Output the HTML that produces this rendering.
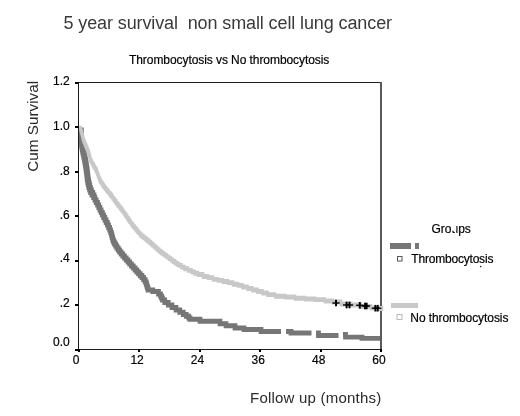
<!DOCTYPE html>
<html><head><meta charset="utf-8"><style>
html,body{margin:0;padding:0;background:#fff;}
body{width:520px;height:416px;overflow:hidden;position:relative;}
svg{position:absolute;left:0;top:0;will-change:transform;}
text{font-family:"Liberation Sans",sans-serif;fill:#000;}
.b{stroke:#000;stroke-width:0.2px;}
</style></head><body>
<svg width="520" height="416" viewBox="0 0 520 416">
<text x="63.5" y="28.6" font-size="18" style="fill:#3a3a3a;white-space:pre" letter-spacing="-0.11">5 year survival  non small cell lung cancer</text>
<text class="b" x="129" y="63.6" font-size="12" letter-spacing="-0.07">Thrombocytosis vs No thrombocytosis</text>
<text transform="translate(37.8 171.8) rotate(-90)" font-size="15.3" style="fill:#2a2a2a">Cum Survival</text>
<text x="250" y="402.6" font-size="15" letter-spacing="0.22" style="fill:#2a2a2a">Follow up (months)</text>
<text class="b" x="69.8" y="85.3" text-anchor="end" font-size="12">1.2</text><text class="b" x="69.8" y="129.8" text-anchor="end" font-size="12">1.0</text><text class="b" x="69.8" y="174.6" text-anchor="end" font-size="12">.8</text><text class="b" x="69.8" y="219" text-anchor="end" font-size="12">.6</text><text class="b" x="69.8" y="262.2" text-anchor="end" font-size="12">.4</text><text class="b" x="69.8" y="306.5" text-anchor="end" font-size="12">.2</text><text class="b" x="69.8" y="346" text-anchor="end" font-size="12">0.0</text><text class="b" x="76.2" y="364" text-anchor="middle" font-size="12">0</text><text class="b" x="137.1" y="364" text-anchor="middle" font-size="12">12</text><text class="b" x="197.5" y="364" text-anchor="middle" font-size="12">24</text><text class="b" x="258.3" y="364" text-anchor="middle" font-size="12">36</text><text class="b" x="318.8" y="364" text-anchor="middle" font-size="12">48</text><text class="b" x="379" y="364" text-anchor="middle" font-size="12">60</text>

<rect x="78" y="82" width="303" height="1" fill="#1e1e1e"/>
<rect x="78" y="349" width="303" height="1" fill="#1e1e1e"/>
<rect x="78" y="82" width="1" height="268" fill="#1a1a1a"/>
<rect x="380" y="82" width="2" height="268" fill="#5a5a5a"/>

<path d="M78.55 127.50h4.73v5.00h-4.73zM78.58 127.50h4.70v6.50h-4.70zM78.58 129.00h4.75v5.00h-4.75zM78.62 129.00h4.70v6.50h-4.70zM78.62 130.50h4.75v5.00h-4.75zM78.68 130.50h4.70v6.75h-4.70zM78.68 132.25h4.75v5.00h-4.75zM78.72 132.25h4.70v6.75h-4.70zM78.72 134.00h4.75v5.00h-4.75zM78.78 134.00h4.70v6.75h-4.70zM78.78 135.75h4.75v5.00h-4.75zM78.83 135.75h4.70v6.75h-4.70zM78.83 137.50h4.89v5.00h-4.89zM79.02 137.50h4.70v7.00h-4.70zM79.02 139.50h5.04v5.00h-5.04zM79.36 139.50h4.70v7.00h-4.70zM79.36 141.50h5.04v5.00h-5.04zM79.70 141.50h4.70v7.00h-4.70zM79.70 143.50h5.04v5.00h-5.04zM80.04 143.50h4.70v7.00h-4.70zM80.04 145.50h5.04v5.00h-5.04zM80.38 145.50h4.70v7.00h-4.70zM80.38 147.50h5.09v5.00h-5.09zM80.77 147.50h4.70v7.00h-4.70zM80.77 149.50h5.14v5.00h-5.14zM81.21 149.50h4.70v7.00h-4.70zM81.21 151.50h5.14v5.00h-5.14zM81.65 151.50h4.70v7.00h-4.70zM81.65 153.50h5.14v5.00h-5.14zM82.09 153.50h4.70v7.00h-4.70zM82.09 155.50h5.14v5.00h-5.14zM82.53 155.50h4.70v7.00h-4.70zM82.53 157.50h5.08v5.00h-5.08zM82.91 157.50h4.70v7.00h-4.70zM82.91 159.50h5.02v5.00h-5.02zM83.23 159.50h4.70v7.00h-4.70zM83.23 161.50h5.02v5.00h-5.02zM83.55 161.50h4.70v7.00h-4.70zM83.55 163.50h5.02v5.00h-5.02zM83.87 163.50h4.70v7.00h-4.70zM83.87 165.50h5.02v5.00h-5.02zM84.19 165.50h4.70v7.00h-4.70zM84.19 167.50h4.98v5.00h-4.98zM84.47 167.50h4.70v7.00h-4.70zM84.47 169.50h4.94v5.00h-4.94zM84.71 169.50h4.70v7.00h-4.70zM84.71 171.50h4.94v5.00h-4.94zM84.95 171.50h4.70v7.00h-4.70zM84.95 173.50h4.94v5.00h-4.94zM85.19 173.50h4.70v7.00h-4.70zM85.19 175.50h4.94v5.00h-4.94zM85.43 175.50h4.70v7.00h-4.70zM85.43 177.50h5.10v5.00h-5.10zM85.83 177.50h4.70v7.50h-4.70zM85.83 180.00h5.25v5.00h-5.25zM86.38 180.00h4.70v7.50h-4.70zM86.38 182.50h5.33v5.00h-5.33zM87.00 182.50h4.70v7.50h-4.70zM87.00 185.00h5.40v5.00h-5.40zM87.70 185.00h4.70v7.50h-4.70zM87.70 187.50h5.70v5.00h-5.70zM88.70 187.50h4.70v7.50h-4.70zM88.70 190.00h6.00v5.00h-6.00zM90.00 190.00h4.70v7.50h-4.70zM90.00 192.50h5.98v5.00h-5.98zM91.28 192.50h4.70v7.50h-4.70zM91.28 195.00h5.95v5.00h-5.95zM92.53 195.00h4.70v7.50h-4.70zM92.53 197.50h6.00v5.00h-6.00zM93.83 197.50h4.70v7.50h-4.70zM93.83 200.00h6.05v5.00h-6.05zM95.18 200.00h4.70v7.50h-4.70zM95.18 202.50h5.95v5.00h-5.95zM96.43 202.50h4.70v7.50h-4.70zM96.43 205.00h5.85v5.00h-5.85zM97.58 205.00h4.70v7.50h-4.70zM97.58 207.50h5.90v5.00h-5.90zM98.78 207.50h4.70v7.50h-4.70zM98.78 210.00h5.95v5.00h-5.95zM100.03 210.00h4.70v7.50h-4.70zM100.03 212.50h5.95v5.00h-5.95zM101.28 212.50h4.70v7.50h-4.70zM101.28 215.00h5.95v5.00h-5.95zM102.53 215.00h4.70v7.50h-4.70zM102.53 217.50h5.95v5.00h-5.95zM103.78 217.50h4.70v7.50h-4.70zM103.78 220.00h5.95v5.00h-5.95zM105.03 220.00h4.70v7.50h-4.70zM105.03 222.50h5.87v5.00h-5.87zM106.20 222.50h4.70v7.50h-4.70zM106.20 225.00h5.80v5.00h-5.80zM107.30 225.00h4.70v7.50h-4.70zM107.30 227.50h5.65v5.00h-5.65zM108.25 227.50h4.70v7.50h-4.70zM108.25 230.00h5.50v5.00h-5.50zM109.05 230.00h4.70v7.50h-4.70zM109.05 232.50h5.40v5.00h-5.40zM109.75 232.50h4.70v7.50h-4.70zM109.75 235.00h5.30v5.00h-5.30zM110.35 235.00h4.70v7.50h-4.70zM110.35 237.50h5.50v5.00h-5.50zM111.15 237.50h4.70v7.00h-4.70zM111.15 239.50h5.70v5.00h-5.70zM112.15 239.50h4.70v7.00h-4.70zM112.15 241.50h5.83v5.00h-5.83zM113.28 241.50h4.70v7.00h-4.70zM113.28 243.50h5.95v5.00h-5.95zM114.53 243.50h4.70v7.00h-4.70zM114.53 245.50h6.03v5.00h-6.03zM115.85 245.50h4.70v7.00h-4.70zM115.85 247.50h6.10v5.00h-6.10zM117.25 247.50h4.70v7.00h-4.70zM117.25 249.50h6.23v5.00h-6.23zM118.78 249.50h4.70v7.00h-4.70zM118.78 251.50h6.35v5.00h-6.35zM120.42 251.50h4.70v7.00h-4.70zM120.42 253.50h6.40v5.00h-6.40zM122.12 253.50h4.70v7.00h-4.70zM122.12 255.50h6.45v5.00h-6.45zM123.88 255.50h4.70v7.00h-4.70zM123.88 257.50h6.43v5.00h-6.43zM125.60 257.50h4.70v7.00h-4.70zM125.60 259.50h6.40v5.00h-6.40zM127.30 259.50h4.70v7.00h-4.70zM127.30 261.50h6.47v5.00h-6.47zM129.07 261.50h4.70v7.00h-4.70zM129.07 263.50h6.53v5.00h-6.53zM130.90 263.50h4.70v7.00h-4.70zM130.90 265.50h6.53v5.00h-6.53zM132.73 265.50h4.70v7.00h-4.70zM132.73 267.50h6.47v5.00h-6.47zM134.50 267.50h4.70v6.88h-4.70zM134.50 269.38h6.40v5.00h-6.40zM136.20 269.38h4.70v6.88h-4.70zM136.20 271.25h6.40v5.00h-6.40zM137.90 271.25h4.70v6.88h-4.70zM137.90 273.12h6.40v5.00h-6.40zM139.60 273.12h4.70v6.88h-4.70zM139.60 275.00h6.35v5.00h-6.35zM141.25 275.00h4.70v7.25h-4.70zM141.25 277.25h6.30v5.00h-6.30zM142.85 277.25h4.70v7.25h-4.70zM142.85 279.50h5.75v5.00h-5.75zM143.90 279.50h4.70v7.00h-4.70zM143.90 281.50h5.20v5.00h-5.20zM144.40 281.50h4.70v7.00h-4.70zM144.40 283.50h5.33v5.00h-5.33zM145.03 283.50h4.70v7.00h-4.70zM145.03 285.50h5.45v5.00h-5.45zM145.78 285.50h4.70v7.00h-4.70zM145.78 287.50h5.08v5.00h-5.08zM146.15 287.50h8.95v5.00h-8.95zM150.40 287.50h4.70v6.50h-4.70zM150.40 289.00h10.45v5.00h-10.45zM156.15 289.00h4.70v7.50h-4.70zM156.15 291.50h6.70v5.00h-6.70zM158.15 291.50h4.70v7.00h-4.70zM158.15 293.50h5.70v5.00h-5.70zM159.15 293.50h4.70v7.00h-4.70zM159.15 295.50h5.70v5.00h-5.70zM160.15 295.50h4.70v7.00h-4.70zM160.15 297.50h6.95v5.00h-6.95zM162.40 297.50h4.70v7.50h-4.70zM162.40 300.00h8.20v5.00h-8.20zM165.90 300.00h4.70v7.50h-4.70zM165.90 302.50h8.45v5.00h-8.45zM169.65 302.50h4.70v7.50h-4.70zM169.65 305.00h8.70v5.00h-8.70zM173.65 305.00h4.70v7.50h-4.70zM173.65 307.50h8.45v5.00h-8.45zM177.40 307.50h4.70v7.25h-4.70zM177.40 309.75h8.20v5.00h-8.20zM180.90 309.75h4.70v7.25h-4.70zM180.90 312.00h7.70v5.00h-7.70zM183.90 312.00h4.70v6.75h-4.70zM183.90 313.75h7.20v5.00h-7.20zM186.40 313.75h4.70v6.75h-4.70zM186.40 315.50h5.95v5.00h-5.95zM187.65 315.50h4.70v6.30h-4.70zM187.65 316.80h14.70v5.00h-14.70zM197.65 316.80h4.70v7.00h-4.70zM197.65 318.80h24.70v5.00h-24.70zM217.65 318.80h4.70v7.40h-4.70zM217.65 321.20h10.70v5.00h-10.70zM223.65 321.20h4.70v7.00h-4.70zM223.65 323.20h13.70v5.00h-13.70zM232.65 323.20h4.70v7.20h-4.70zM232.65 325.40h13.70v5.00h-13.70zM241.65 325.40h4.70v6.70h-4.70zM241.65 327.10h21.70v5.00h-21.70zM258.65 327.10h4.70v6.90h-4.70zM258.65 329.00h22.35v5.00h-22.35zM78.10 127.50h5.63v5.00h-5.63zM78.13 127.50h5.60v6.50h-5.60zM78.13 129.00h5.65v5.00h-5.65zM78.17 129.00h5.60v6.50h-5.60zM78.17 130.50h5.65v5.00h-5.65zM78.23 130.50h5.60v6.75h-5.60zM78.23 132.25h5.65v5.00h-5.65zM78.27 132.25h5.60v6.75h-5.60zM78.27 134.00h5.65v5.00h-5.65zM78.33 134.00h5.60v6.75h-5.60zM78.33 135.75h5.65v5.00h-5.65zM78.38 135.75h5.60v6.75h-5.60zM78.38 137.50h5.79v5.00h-5.79zM78.57 137.50h5.60v7.00h-5.60zM78.57 139.50h5.94v5.00h-5.94zM78.91 139.50h5.60v7.00h-5.60zM78.91 141.50h5.94v5.00h-5.94zM79.25 141.50h5.60v7.00h-5.60zM79.25 143.50h5.94v5.00h-5.94zM79.59 143.50h5.60v7.00h-5.60zM79.59 145.50h5.94v5.00h-5.94zM79.93 145.50h5.60v7.00h-5.60zM79.93 147.50h5.99v5.00h-5.99zM80.32 147.50h5.60v7.00h-5.60zM80.32 149.50h6.04v5.00h-6.04zM80.76 149.50h5.60v7.00h-5.60zM80.76 151.50h6.04v5.00h-6.04zM81.20 151.50h5.60v7.00h-5.60zM81.20 153.50h6.04v5.00h-6.04zM81.64 153.50h5.60v7.00h-5.60zM81.64 155.50h6.04v5.00h-6.04zM82.08 155.50h5.60v7.00h-5.60zM82.08 157.50h5.98v5.00h-5.98zM82.46 157.50h5.60v7.00h-5.60zM82.46 159.50h5.92v5.00h-5.92zM82.78 159.50h5.60v7.00h-5.60zM82.78 161.50h5.92v5.00h-5.92zM83.10 161.50h5.60v7.00h-5.60zM83.10 163.50h5.92v5.00h-5.92zM83.42 163.50h5.60v7.00h-5.60zM83.42 165.50h5.92v5.00h-5.92zM83.74 165.50h5.60v7.00h-5.60zM83.74 167.50h5.88v5.00h-5.88zM84.02 167.50h5.60v7.00h-5.60zM84.02 169.50h5.84v5.00h-5.84zM84.26 169.50h5.60v7.00h-5.60zM84.26 171.50h5.84v5.00h-5.84zM84.50 171.50h5.60v7.00h-5.60zM84.50 173.50h5.84v5.00h-5.84zM84.74 173.50h5.60v7.00h-5.60zM84.74 175.50h5.84v5.00h-5.84zM84.98 175.50h5.60v7.00h-5.60zM84.98 177.50h6.00v5.00h-6.00zM85.38 177.50h5.60v7.50h-5.60zM85.38 180.00h6.15v5.00h-6.15zM85.92 180.00h5.60v7.50h-5.60zM85.92 182.50h6.22v5.00h-6.22zM86.55 182.50h5.60v7.50h-5.60zM86.55 185.00h6.30v5.00h-6.30zM87.25 185.00h5.60v7.50h-5.60zM87.25 187.50h6.60v5.00h-6.60zM88.25 187.50h5.60v7.50h-5.60zM88.25 190.00h6.90v5.00h-6.90zM89.55 190.00h5.60v7.50h-5.60zM89.55 192.50h6.88v5.00h-6.88z" fill="#767676"/><polyline points="286.0,331.5 291.0,331.5 291.0,333.0 311.5,333.0" fill="none" stroke="#767676" stroke-width="4.8" stroke-linejoin="miter" stroke-linecap="butt"/><polyline points="316.0,333.0 318.5,333.0 318.5,335.5 338.5,335.5" fill="none" stroke="#767676" stroke-width="4.8" stroke-linejoin="miter" stroke-linecap="butt"/><polyline points="343.0,334.5 345.5,334.5 345.5,337.2 362.0,337.2 362.0,338.3 380.0,338.3" fill="none" stroke="#767676" stroke-width="4.8" stroke-linejoin="miter" stroke-linecap="butt"/><path d="M79.05 125.85h2.75v4.90h-2.75zM79.30 125.85h2.50v6.47h-2.50zM79.30 127.42h3.00v4.90h-3.00zM79.80 127.42h2.50v6.47h-2.50zM79.80 128.98h3.00v4.90h-3.00zM80.30 128.98h2.50v6.47h-2.50zM80.30 130.55h2.92v4.90h-2.92zM80.72 130.55h2.50v6.30h-2.50zM80.72 131.95h2.84v4.90h-2.84zM81.06 131.95h2.50v6.30h-2.50zM81.06 133.35h2.84v4.90h-2.84zM81.40 133.35h2.50v6.30h-2.50zM81.40 134.75h2.84v4.90h-2.84zM81.74 134.75h2.50v6.30h-2.50zM81.74 136.15h2.84v4.90h-2.84zM82.08 136.15h2.50v6.30h-2.50zM82.08 137.55h2.97v4.90h-2.97zM82.55 137.55h2.50v6.30h-2.50zM82.55 138.95h3.10v4.90h-3.10zM83.15 138.95h2.50v6.30h-2.50zM83.15 140.35h3.10v4.90h-3.10zM83.75 140.35h2.50v6.30h-2.50zM83.75 141.75h3.10v4.90h-3.10zM84.35 141.75h2.50v6.30h-2.50zM84.35 143.15h3.10v4.90h-3.10zM84.95 143.15h2.50v6.30h-2.50zM84.95 144.55h3.13v4.90h-3.13zM85.58 144.55h2.50v6.57h-2.50zM85.58 146.22h3.17v4.90h-3.17zM86.25 146.22h2.50v6.57h-2.50zM86.25 147.88h3.17v4.90h-3.17zM86.92 147.88h2.50v6.57h-2.50zM86.92 149.55h3.04v4.90h-3.04zM87.46 149.55h2.50v6.50h-2.50zM87.46 151.15h2.92v4.90h-2.92zM87.88 151.15h2.50v6.50h-2.50zM87.88 152.75h2.92v4.90h-2.92zM88.30 152.75h2.50v6.50h-2.50zM88.30 154.35h2.92v4.90h-2.92zM88.72 154.35h2.50v6.50h-2.50zM88.72 155.95h2.92v4.90h-2.92zM89.14 155.95h2.50v6.50h-2.50zM89.14 157.55h3.16v4.90h-3.16zM89.80 157.55h2.50v6.57h-2.50zM89.80 159.22h3.40v4.90h-3.40zM90.70 159.22h2.50v6.57h-2.50zM90.70 160.88h3.40v4.90h-3.40zM91.60 160.88h2.50v6.57h-2.50zM91.60 162.55h3.43v4.90h-3.43zM92.53 162.55h2.50v6.57h-2.50zM92.53 164.22h3.47v4.90h-3.47zM93.50 164.22h2.50v6.57h-2.50zM93.50 165.88h3.47v4.90h-3.47zM94.47 165.88h2.50v6.57h-2.50zM94.47 167.55h3.30v4.90h-3.30zM95.27 167.55h2.50v6.57h-2.50zM95.27 169.22h3.13v4.90h-3.13zM95.90 169.22h2.50v6.57h-2.50zM95.90 170.88h3.13v4.90h-3.13zM96.53 170.88h2.50v6.57h-2.50zM96.53 172.55h3.12v4.90h-3.12zM97.15 172.55h2.50v6.57h-2.50zM97.15 174.22h3.10v4.90h-3.10zM97.75 174.22h2.50v6.57h-2.50zM97.75 175.88h3.10v4.90h-3.10zM98.35 175.88h2.50v6.57h-2.50zM98.35 177.55h3.32v4.90h-3.32zM99.17 177.55h2.50v6.57h-2.50zM99.17 179.22h3.53v4.90h-3.53zM100.20 179.22h2.50v6.57h-2.50zM100.20 180.88h3.53v4.90h-3.53zM101.23 180.88h2.50v6.57h-2.50zM101.23 182.55h3.65v4.90h-3.65zM102.38 182.55h2.50v6.57h-2.50zM102.38 184.22h3.77v4.90h-3.77zM103.65 184.22h2.50v6.57h-2.50zM103.65 185.88h3.77v4.90h-3.77zM104.92 185.88h2.50v6.57h-2.50zM104.92 187.55h3.83v4.90h-3.83zM106.25 187.55h2.50v6.57h-2.50zM106.25 189.22h3.90v4.90h-3.90zM107.65 189.22h2.50v6.57h-2.50zM107.65 190.88h3.90v4.90h-3.90zM109.05 190.88h2.50v6.57h-2.50zM109.05 192.55h3.78v4.90h-3.78zM110.33 192.55h2.50v6.57h-2.50zM110.33 194.22h3.67v4.90h-3.67zM111.50 194.22h2.50v6.57h-2.50zM111.50 195.88h3.67v4.90h-3.67zM112.67 195.88h2.50v6.57h-2.50zM112.67 197.55h3.70v4.90h-3.70zM113.87 197.55h2.50v6.57h-2.50zM113.87 199.22h3.73v4.90h-3.73zM115.10 199.22h2.50v6.57h-2.50zM115.10 200.88h3.73v4.90h-3.73zM116.33 200.88h2.50v6.57h-2.50zM116.33 202.55h3.78v4.90h-3.78zM117.62 202.55h2.50v6.57h-2.50zM117.62 204.22h3.83v4.90h-3.83zM118.95 204.22h2.50v6.57h-2.50zM118.95 205.88h3.83v4.90h-3.83zM120.28 205.88h2.50v6.57h-2.50zM120.28 207.55h3.75v4.90h-3.75zM121.53 207.55h2.50v6.57h-2.50zM121.53 209.22h3.67v4.90h-3.67zM122.70 209.22h2.50v6.57h-2.50zM122.70 210.88h3.67v4.90h-3.67zM123.87 210.88h2.50v6.57h-2.50zM123.87 212.55h3.63v4.90h-3.63zM125.00 212.55h2.50v6.57h-2.50zM125.00 214.22h3.60v4.90h-3.60zM126.10 214.22h2.50v6.57h-2.50zM126.10 215.88h3.60v4.90h-3.60zM127.20 215.88h2.50v6.57h-2.50zM127.20 217.55h3.65v4.90h-3.65zM128.35 217.55h2.50v6.57h-2.50zM128.35 219.22h3.70v4.90h-3.70zM129.55 219.22h2.50v6.57h-2.50zM129.55 220.88h3.70v4.90h-3.70zM130.75 220.88h2.50v6.57h-2.50zM130.75 222.55h3.78v4.90h-3.78zM132.03 222.55h2.50v6.57h-2.50zM132.03 224.22h3.87v4.90h-3.87zM133.40 224.22h2.50v6.57h-2.50zM133.40 225.88h3.87v4.90h-3.87zM134.77 225.88h2.50v6.57h-2.50zM134.77 227.55h3.90v4.90h-3.90zM136.17 227.55h2.50v6.57h-2.50zM136.17 229.22h3.93v4.90h-3.93zM137.60 229.22h2.50v6.57h-2.50zM137.60 230.88h3.93v4.90h-3.93zM139.03 230.88h2.50v6.57h-2.50zM139.03 232.55h4.12v4.90h-4.12zM140.65 232.55h2.50v6.34h-2.50zM140.65 233.99h4.30v4.90h-4.30zM142.45 233.99h2.50v6.34h-2.50zM142.45 235.43h4.30v4.90h-4.30zM144.25 235.43h2.50v6.34h-2.50zM144.25 236.87h4.30v4.90h-4.30zM146.05 236.87h2.50v6.34h-2.50zM146.05 238.31h4.30v4.90h-4.30zM147.85 238.31h2.50v6.34h-2.50zM147.85 239.75h4.23v4.90h-4.23zM149.58 239.75h2.50v6.40h-2.50zM149.58 241.25h4.17v4.90h-4.17zM151.25 241.25h2.50v6.40h-2.50zM151.25 242.75h4.17v4.90h-4.17zM152.92 242.75h2.50v6.40h-2.50zM152.92 244.25h4.17v4.90h-4.17zM154.58 244.25h2.50v6.40h-2.50zM154.58 245.75h4.17v4.90h-4.17zM156.25 245.75h2.50v6.40h-2.50zM156.25 247.25h4.17v4.90h-4.17zM157.92 247.25h2.50v6.40h-2.50zM157.92 248.75h4.33v4.90h-4.33zM159.75 248.75h2.50v6.38h-2.50zM159.75 250.23h4.50v4.90h-4.50zM161.75 250.23h2.50v6.38h-2.50zM161.75 251.71h4.50v4.90h-4.50zM163.75 251.71h2.50v6.38h-2.50zM163.75 253.19h4.50v4.90h-4.50zM165.75 253.19h2.50v6.38h-2.50zM165.75 254.67h4.50v4.90h-4.50zM167.75 254.67h2.50v6.38h-2.50zM167.75 256.15h4.50v4.90h-4.50zM169.75 256.15h2.50v6.37h-2.50zM169.75 257.62h4.50v4.90h-4.50zM171.75 257.62h2.50v6.37h-2.50zM171.75 259.08h4.50v4.90h-4.50zM173.75 259.08h2.50v6.37h-2.50zM173.75 260.55h4.50v4.90h-4.50zM175.75 260.55h2.50v6.10h-2.50zM175.75 261.75h4.50v4.90h-4.50zM177.75 261.75h2.50v6.10h-2.50zM177.75 262.95h5.00v4.90h-5.00zM180.25 262.95h2.50v6.60h-2.50zM180.25 264.65h5.50v4.90h-5.50zM183.25 264.65h2.50v6.60h-2.50zM183.25 266.35h6.00v4.90h-6.00zM186.75 266.35h2.50v6.50h-2.50zM186.75 267.95h6.00v4.90h-6.00zM190.25 267.95h2.50v6.35h-2.50zM190.25 269.40h5.50v4.90h-5.50zM193.25 269.40h2.50v6.35h-2.50zM193.25 270.85h6.00v4.90h-6.00zM196.75 270.85h2.50v6.10h-2.50zM196.75 272.05h7.50v4.90h-7.50zM201.75 272.05h2.50v6.90h-2.50zM201.75 274.05h7.50v4.90h-7.50zM206.75 274.05h2.50v6.00h-2.50zM206.75 275.15h7.50v4.90h-7.50zM211.75 275.15h2.50v6.70h-2.50zM211.75 276.95h7.50v4.90h-7.50zM216.75 276.95h2.50v5.90h-2.50zM216.75 277.95h7.50v4.90h-7.50zM221.75 277.95h2.50v6.00h-2.50zM221.75 279.05h7.50v4.90h-7.50zM226.75 279.05h2.50v6.00h-2.50zM226.75 280.15h7.50v4.90h-7.50zM231.75 280.15h2.50v6.50h-2.50zM231.75 281.75h7.50v4.90h-7.50zM236.75 281.75h2.50v6.10h-2.50zM236.75 282.95h7.00v4.90h-7.00zM241.25 282.95h2.50v6.45h-2.50zM241.25 284.50h7.50v4.90h-7.50zM246.25 284.50h2.50v6.45h-2.50zM246.25 286.05h7.50v4.90h-7.50zM251.25 286.05h2.50v6.40h-2.50zM251.25 287.55h7.50v4.90h-7.50zM256.25 287.55h2.50v6.40h-2.50zM256.25 289.05h7.50v4.90h-7.50zM261.25 289.05h2.50v6.45h-2.50zM261.25 290.60h7.50v4.90h-7.50zM266.25 290.60h2.50v6.45h-2.50zM266.25 292.15h10.00v4.90h-10.00zM273.75 292.15h2.50v6.50h-2.50zM273.75 293.75h12.50v4.90h-12.50zM283.75 293.75h2.50v5.70h-2.50zM283.75 294.55h12.50v4.90h-12.50zM293.75 294.55h2.50v6.10h-2.50zM293.75 295.75h12.50v4.90h-12.50zM303.75 295.75h2.50v5.70h-2.50zM303.75 296.55h12.50v4.90h-12.50zM313.75 296.55h2.50v5.50h-2.50zM313.75 297.15h12.50v4.90h-12.50zM323.75 297.15h2.50v6.30h-2.50zM323.75 298.55h10.50v4.90h-10.50zM331.75 298.55h2.50v5.90h-2.50zM331.75 299.55h10.50v4.90h-10.50zM339.75 299.55h2.50v6.90h-2.50zM339.75 301.55h12.50v4.90h-12.50zM349.75 301.55h2.50v5.90h-2.50zM349.75 302.55h12.50v4.90h-12.50zM359.75 302.55h2.50v6.40h-2.50zM359.75 304.05h12.50v4.90h-12.50zM369.75 304.05h2.50v6.40h-2.50zM369.75 305.55h10.50v4.90h-10.50zM377.75 305.55h2.50v5.40h-2.50zM377.75 306.05h5.50v4.90h-5.50z" fill="#c8c8c8"/><path d="M332.4 303.0H339.6" stroke="#000" stroke-width="1.4" fill="none"/><path d="M336.0 299.7V306.3" stroke="#000" stroke-width="2" fill="none"/><path d="M343.0 305.0H350.2" stroke="#000" stroke-width="1.4" fill="none"/><path d="M346.6 301.7V308.3" stroke="#000" stroke-width="2" fill="none"/><path d="M345.9 305.0H353.1" stroke="#000" stroke-width="1.4" fill="none"/><path d="M349.5 301.7V308.3" stroke="#000" stroke-width="2" fill="none"/><path d="M356.2 305.3H363.4" stroke="#000" stroke-width="1.4" fill="none"/><path d="M359.8 302.0V308.6" stroke="#000" stroke-width="2" fill="none"/><path d="M361.5 306.0H368.7" stroke="#000" stroke-width="1.4" fill="none"/><path d="M365.1 302.7V309.3" stroke="#000" stroke-width="2" fill="none"/><path d="M363.0 306.0H370.2" stroke="#000" stroke-width="1.4" fill="none"/><path d="M366.6 302.7V309.3" stroke="#000" stroke-width="2" fill="none"/><path d="M371.8 308.2H379.0" stroke="#000" stroke-width="1.4" fill="none"/><path d="M375.4 304.9V311.5" stroke="#000" stroke-width="2" fill="none"/><path d="M374.1 308.2H381.3" stroke="#000" stroke-width="1.4" fill="none"/><path d="M377.7 304.9V311.5" stroke="#000" stroke-width="2" fill="none"/><rect x="78" y="82" width="1" height="268" fill="#1a1a1a"/>
<rect x="75" y="82" width="3.5" height="2" fill="#000"/><rect x="75" y="126" width="3.5" height="2" fill="#000"/><rect x="75" y="171" width="3.5" height="2" fill="#000"/><rect x="75" y="215" width="3.5" height="2" fill="#000"/><rect x="75" y="260" width="3.5" height="2" fill="#000"/><rect x="75" y="304" width="3.5" height="2" fill="#000"/><rect x="75" y="349" width="3.5" height="2" fill="#000"/><rect x="78" y="349" width="2" height="3" fill="#000"/><rect x="138" y="349" width="2" height="3" fill="#000"/><rect x="199" y="349" width="2" height="3" fill="#000"/><rect x="259" y="349" width="2" height="3" fill="#000"/><rect x="320" y="349" width="2" height="3" fill="#000"/><rect x="380" y="349" width="2" height="3" fill="#000"/>
<text class="b" x="431.5" y="233.3" font-size="12">Groups</text>
<rect x="451.6" y="225.2" width="4.6" height="5.6" fill="#fff"/><rect x="455" y="230.5" width="1.2" height="2.6" fill="#fff"/>
<circle cx="480.6" cy="266.6" r="0.8" fill="#222"/>
<rect x="390" y="243" width="21" height="6" fill="#767676"/>
<rect x="415" y="243" width="4" height="6" fill="#767676"/>
<rect x="397.5" y="256.5" width="4.5" height="4.5" fill="none" stroke="#555" stroke-width="1"/>
<text class="b" x="411.3" y="263" font-size="12" letter-spacing="-0.2">Thrombocytosis</text>
<rect x="391" y="303" width="27" height="5" fill="#c8c8c8"/>
<rect x="397" y="314.5" width="5" height="5" fill="none" stroke="#bbb" stroke-width="1"/>
<text class="b" x="410.3" y="321.5" font-size="12" letter-spacing="-0.08">No thrombocytosis</text>
</svg>
</body></html>
